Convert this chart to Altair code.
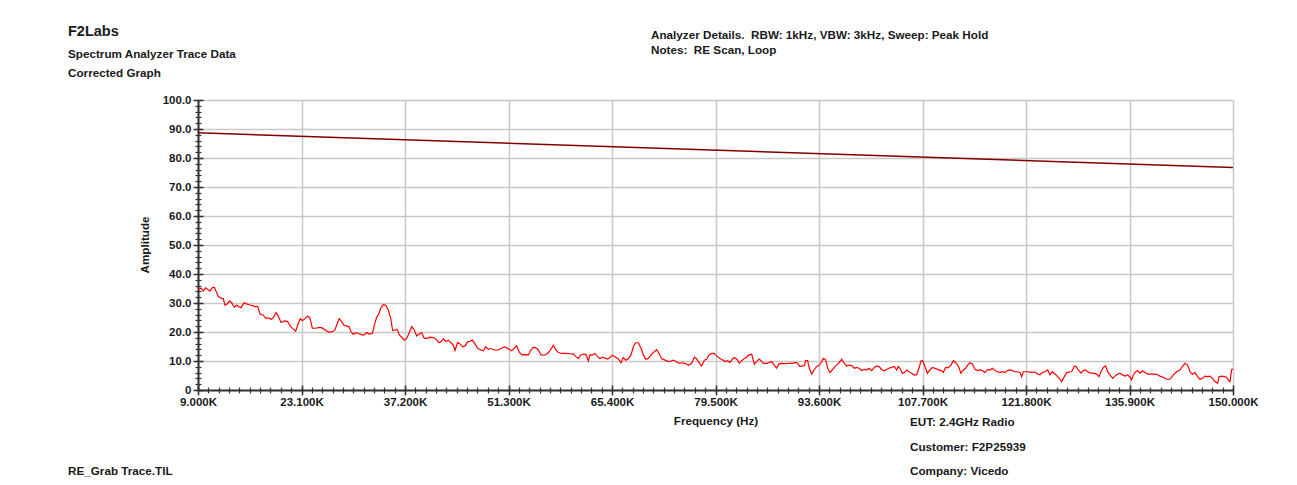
import altair as alt
import pandas as pd

# ---------------- data ----------------
freq_khz = [
    9.00, 9.41, 9.73, 10.04, 10.32, 10.63, 10.95, 11.23, 11.54, 11.77,
    12.22, 12.45, 12.68, 12.99, 13.27, 13.59, 13.95, 14.27, 14.58, 14.86,
    15.27, 15.63, 16.08, 16.54, 16.86, 17.13, 17.45, 17.90, 18.22, 18.58,
    18.94, 19.26, 19.63, 19.94, 20.31, 20.76, 21.22, 21.53, 21.99, 22.30,
    22.67, 22.94, 23.21, 23.58, 23.94, 24.26, 24.58, 25.03, 25.48, 25.94,
    26.39, 26.85, 27.30, 27.66, 27.89, 28.25, 28.57, 28.93, 29.25, 29.57,
    29.84, 30.16, 30.48, 30.84, 31.30, 31.66, 31.98, 32.30, 32.75, 33.02,
    33.34, 33.66, 33.93, 34.25, 34.57, 34.93, 35.25, 35.52, 35.84, 36.15,
    36.43, 36.74, 37.11, 37.43, 37.79, 38.11, 38.47, 38.79, 39.11, 39.47,
    39.83, 40.24, 40.61, 41.06, 41.38, 41.83, 42.19, 42.42, 42.74, 43.10,
    43.47, 43.78, 44.01, 44.37, 44.69, 45.06, 45.37, 45.74, 46.05, 46.37,
    46.74, 47.10, 47.55, 47.87, 48.19, 48.55, 48.91, 49.37, 49.91, 50.28,
    50.73, 51.05, 51.41, 51.73, 52.09, 52.41, 52.73, 53.09, 53.55, 54.00,
    54.36, 54.68, 55.00, 55.36, 55.73, 56.18, 56.63, 56.95, 57.41, 57.72,
    58.09, 58.54, 59.09, 59.68, 60.13, 60.50, 60.81, 61.13, 61.49, 61.86,
    62.18, 62.40, 62.72, 63.08, 63.45, 63.76, 64.08, 64.45, 64.81, 65.13,
    65.44, 65.81, 66.26, 66.62, 66.94, 67.26, 67.62, 67.99, 68.31, 68.62,
    68.99, 69.35, 69.67, 69.99, 70.35, 70.71, 71.03, 71.48, 71.80, 72.17,
    72.62, 73.08, 73.44, 73.76, 74.12, 74.53, 74.89, 75.34, 75.80, 76.25,
    76.62, 76.93, 77.25, 77.61, 77.98, 78.30, 78.61, 78.98, 79.34,
    79.43, 79.79, 80.11, 80.43, 80.79, 81.11, 81.47, 81.79, 82.06, 82.43,
    82.74, 83.06, 83.43, 83.74, 84.06, 84.43, 84.79, 85.11, 85.42, 85.70,
    86.01, 86.47, 86.83, 87.15, 87.51, 87.83, 88.15, 88.51, 88.97, 89.42,
    89.97, 90.42, 90.69, 91.01, 91.33, 91.60, 91.78, 92.05, 92.28, 92.60,
    92.92, 93.28, 93.60, 93.87, 94.19, 94.51, 94.78, 95.10, 95.41, 95.69,
    96.00, 96.32, 96.69, 97.05, 97.37, 97.68, 98.05, 98.41, 98.73, 99.05,
    99.41, 99.77, 100.09, 100.41, 100.77, 101.14, 101.45, 101.77, 102.14, 102.50,
    102.82, 103.13, 103.50, 103.86, 104.18, 104.41, 104.63, 104.95, 105.22, 105.54,
    105.86, 106.22, 106.54, 106.90, 107.22, 107.49, 107.72, 108.04, 108.36, 108.72,
    109.04, 109.40, 109.76, 110.22, 110.54, 110.85, 111.22, 111.58, 111.90, 112.22,
    112.58, 112.94, 113.26, 113.58, 113.85, 114.17, 114.49, 114.85, 115.21, 115.53,
    115.85, 116.21, 116.58, 116.89, 117.21, 117.57, 117.94, 118.26, 118.57, 118.94,
    119.30, 119.62, 119.94, 120.30, 120.66, 120.98, 121.21, 121.43, 121.75, 122.12,
    122.57, 123.02, 123.39, 123.70, 124.02, 124.39, 124.75, 125.07, 125.38, 125.75,
    126.11, 126.43, 126.66, 127.02, 127.34, 127.66, 128.02, 128.38, 128.56, 128.93,
    129.29, 129.61, 129.93, 130.20, 130.52, 130.97, 131.42, 131.74, 132.02, 132.33,
    132.65, 132.92, 133.24, 133.61, 133.92, 134.29, 134.60, 134.92, 135.29, 135.65,
    135.97, 136.19, 136.42, 136.74, 137.01, 137.33, 137.65, 138.01, 138.37, 138.69,
    139.14, 139.60, 140.05, 140.51, 140.96, 141.41, 141.87, 142.32, 142.78, 143.10,
    143.46, 143.82, 144.14, 144.46, 144.82, 145.18, 145.50, 145.82, 146.18, 146.55,
    146.86, 147.18, 147.55, 147.91, 148.09, 148.45, 148.82, 149.13, 149.36, 149.59,
    149.82, 150.00,
]

amplitude = [
    34.7, 35.1, 34.1, 35.2, 34.7, 34.1, 35.3, 35.4, 33.6, 32.2,
    31.6, 31.5, 29.2, 29.7, 30.7, 30.1, 28.5, 29.3, 28.7, 28.4,
    30.1, 29.7, 29.3, 29.0, 28.7, 28.9, 26.2, 25.8, 24.7, 24.9,
    24.4, 24.9, 26.7, 25.5, 23.3, 23.8, 23.6, 22.1, 21.0, 20.3,
    23.0, 24.6, 23.9, 24.6, 25.5, 24.7, 21.3, 21.3, 21.6, 21.4,
    20.5, 19.9, 20.1, 20.7, 22.4, 24.6, 23.6, 22.2, 22.1, 21.8,
    20.1, 19.2, 19.8, 19.5, 19.0, 19.0, 19.8, 19.3, 19.5, 22.4,
    25.1, 26.4, 28.4, 29.4, 29.2, 27.6, 24.7, 20.5, 20.7, 20.9,
    19.0, 18.2, 17.2, 17.8, 19.8, 21.8, 20.7, 18.6, 19.3, 19.8,
    17.8, 17.8, 18.2, 18.1, 17.6, 16.3, 16.9, 17.7, 16.7, 17.2,
    16.3, 15.5, 13.6, 16.4, 15.9, 14.9, 15.2, 16.6, 16.8, 17.2,
    15.9, 14.4, 13.8, 13.5, 14.9, 14.0, 14.3, 13.8, 13.8, 14.3,
    14.9, 14.6, 14.0, 13.5, 14.4, 15.2, 13.2, 12.1, 12.2, 12.1,
    13.8, 14.7, 14.6, 13.8, 12.1, 12.0, 12.6, 13.6, 15.4, 14.0,
    12.9, 12.6, 12.6, 12.5, 12.4, 11.5, 10.8, 12.1, 12.4, 12.2,
    10.0, 12.1, 12.0, 12.6, 11.5, 10.8, 11.3, 11.0, 10.7, 11.2,
    12.0, 11.5, 10.7, 9.4, 11.2, 10.3, 10.8, 12.1, 14.9, 16.3,
    16.3, 14.4, 12.1, 10.6, 10.9, 12.1, 12.9, 13.9, 12.6, 10.8,
    10.3, 9.8, 10.0, 10.3, 9.8, 9.2, 9.4, 9.2, 8.5, 9.2,
    11.3, 10.8, 9.4, 8.3, 10.3, 10.6, 12.1, 12.6, 12.6,
    12.3, 11.5, 10.9, 10.4, 9.8, 10.1, 9.5, 10.6, 11.2, 10.6,
    9.2, 10.1, 10.9, 11.3, 12.1, 12.3, 8.9, 9.8, 10.7, 10.1,
    9.2, 9.2, 9.5, 9.8, 8.6, 7.5, 9.0, 9.2, 9.1, 9.2,
    9.2, 9.5, 9.2, 8.1, 8.3, 8.4, 10.1, 10.1, 7.5, 5.5,
    6.9, 8.1, 8.5, 9.4, 10.9, 10.4, 7.5, 6.0, 6.9, 7.8,
    8.6, 9.4, 10.6, 9.2, 8.3, 8.6, 8.4, 7.5, 7.8, 7.5,
    6.7, 7.1, 6.9, 7.5, 6.7, 7.8, 8.3, 8.1, 7.1, 6.6,
    7.1, 7.5, 7.8, 8.1, 6.9, 8.1, 7.5, 5.8, 6.0, 6.9,
    6.3, 5.8, 5.2, 5.2, 7.5, 10.0, 10.1, 8.1, 5.8, 6.9,
    7.8, 7.5, 7.1, 6.7, 6.1, 7.8, 7.7, 8.6, 10.1, 9.4,
    8.3, 5.8, 6.9, 7.5, 8.6, 9.4, 9.0, 7.1, 6.7, 6.9,
    6.7, 6.0, 7.1, 6.9, 7.5, 6.7, 6.3, 6.0, 6.3, 6.0,
    6.7, 6.9, 6.7, 6.3, 6.3, 6.0, 4.6, 6.3, 6.3, 6.3,
    6.1, 6.2, 5.5, 5.2, 6.0, 6.3, 6.9, 5.2, 6.3, 5.5,
    4.6, 3.7, 2.9, 4.6, 6.0, 6.2, 6.3, 8.1, 8.3, 6.9,
    5.8, 6.7, 6.9, 6.3, 5.8, 5.8, 5.5, 4.6, 6.3, 7.8,
    8.3, 6.3, 5.2, 4.0, 4.8, 5.5, 5.8, 5.2, 4.8, 5.2,
    4.4, 3.5, 5.2, 6.3, 6.7, 5.8, 6.6, 6.0, 5.5, 5.5,
    5.5, 5.4, 4.8, 4.4, 3.7, 3.7, 5.2, 6.3, 6.9, 8.1,
    9.2, 8.6, 6.3, 5.4, 6.0, 4.6, 3.7, 4.0, 4.8, 4.6,
    4.8, 4.0, 2.9, 2.3, 4.6, 4.8, 4.6, 4.4, 3.5, 2.9,
    7.1, 7.2,
]

limit_freq_khz = [9.0, 150.0]
limit_amplitude = [88.7, 76.7]

x_major_ticks = [9.0, 23.1, 37.2, 51.3, 65.4, 79.5, 93.6, 107.7, 121.8, 135.9, 150.0]
y_major_ticks = [0, 10, 20, 30, 40, 50, 60, 70, 80, 90, 100]
x_minor_ticks = [round(9.0 + 1.41 * k, 2) for k in range(101)]
y_minor_ticks = list(range(0, 101, 2))

assert len(freq_khz) == len(amplitude)

trace = pd.DataFrame({"f": freq_khz, "a": amplitude})
limit = pd.DataFrame({"f": limit_freq_khz, "a": limit_amplitude})

FONT = "Liberation Sans"
TXT = "#1a1a1a"
AX = "#333333"
GRID = "#c8c8c8"

xscale = alt.Scale(domain=[9, 150], nice=False, zero=False)
yscale = alt.Scale(domain=[0, 100], nice=False, zero=False)

lab = dict(labelFont=FONT, labelFontWeight="bold", labelFontSize=11.5, labelColor=TXT)

x_main = alt.Axis(orient="bottom", values=x_major_ticks, title=None,
                  labelExpr="format(datum.value, '.3f') + 'K'",
                  grid=True, gridColor=GRID, gridWidth=1.5,
                  domainColor=AX, domainWidth=2, tickColor=AX, tickWidth=1.5,
                  tickSize=5, labelPadding=1, labelOverlap=False,
                  labelFlush=False, **lab)
y_main = alt.Axis(orient="left", values=y_major_ticks, title=None,
                  labelExpr="datum.value == 0 ? '0' : format(datum.value, '.1f')",
                  grid=True, gridColor=GRID, gridWidth=1.5,
                  domainColor=AX, domainWidth=2, tickColor=AX, tickWidth=1.5,
                  tickSize=5, labelPadding=2, labelOverlap=False,
                  labelFlush=False, **lab)

x_inner = alt.Axis(orient="bottom", values=x_major_ticks, title=None, labels=False,
                   domain=False, grid=False, offset=-5, tickSize=5,
                   tickColor=AX, tickWidth=1.5)
y_inner = alt.Axis(orient="left", values=y_major_ticks, title=None, labels=False,
                   domain=False, grid=False, offset=-5, tickSize=5,
                   tickColor=AX, tickWidth=1.5)

x_minor = alt.Axis(orient="bottom", values=x_minor_ticks, title=None, labels=False,
                   domain=False, grid=False, offset=-3, tickSize=6,
                   tickColor=AX, tickWidth=1.2)
y_minor = alt.Axis(orient="left", values=y_minor_ticks, title=None, labels=False,
                   domain=False, grid=False, offset=-3, tickSize=6,
                   tickColor=AX, tickWidth=1.2)

trace_layer = alt.Chart(trace).mark_line(color="#ff0000", strokeWidth=1.2).encode(
    x=alt.X("f:Q", scale=xscale, axis=x_main),
    y=alt.Y("a:Q", scale=yscale, axis=y_main),
)
limit_layer = alt.Chart(limit).mark_line(color="#800000", strokeWidth=1.5).encode(
    x=alt.X("f:Q", scale=xscale, axis=x_inner),
    y=alt.Y("a:Q", scale=yscale, axis=y_inner),
)
minor_layer = alt.Chart(limit).mark_line(opacity=0).encode(
    x=alt.X("f:Q", scale=xscale, axis=x_minor),
    y=alt.Y("a:Q", scale=yscale, axis=y_minor),
)


def label(text, x, y, size=11.7, align="left", angle=0):
    return alt.Chart(alt.Data(values=[{}])).mark_text(
        text=text, align=align, baseline="middle", font=FONT, fontWeight="bold",
        fontSize=size, color=TXT, angle=angle,
    ).encode(x=alt.value(x), y=alt.value(y))


texts = [
    label("F2Labs", -130, -68, size=14.5),
    label("Spectrum Analyzer Trace Data", -130, -46),
    label("Corrected Graph", -130, -27),
    label("Analyzer Details.\u00a0 RBW: 1kHz, VBW: 3kHz, Sweep: Peak Hold", 453, -65),
    label("Notes:\u00a0 RE Scan, Loop", 453, -50),
    label("Amplitude", -53, 145, align="center", angle=270),
    label("Frequency (Hz)", 518, 321, align="center"),
    label("EUT: 2.4GHz Radio", 712, 322),
    label("Customer: F2P25939", 712, 347),
    label("Company: Vicedo", 712, 371),
    label("RE_Grab Trace.TIL", -130, 371),
]

chart = alt.layer(trace_layer, limit_layer, minor_layer, *texts).resolve_axis(
    x="independent", y="independent"
).properties(
    width=1035, height=290,
    autosize=alt.AutoSizeParams(type="none"),
    padding={"left": 190, "top": 92, "right": 56, "bottom": 87},
    background="white",
).configure_view(stroke=None)

chart.save("out.html", embed_options={"renderer": "svg", "actions": False})
